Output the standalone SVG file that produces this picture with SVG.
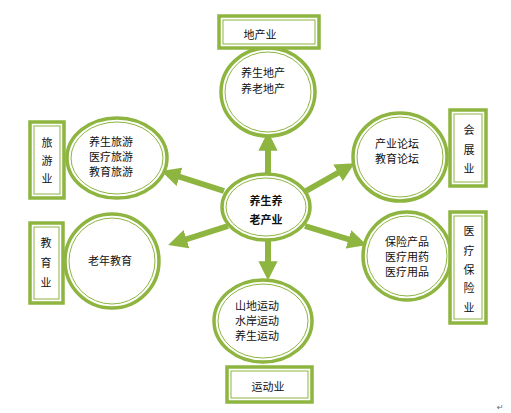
<svg xmlns="http://www.w3.org/2000/svg" width="511" height="413" viewBox="0 0 511 413">
<defs>
<style>
.o{fill:#fff;stroke:#8DB540;stroke-width:3.5}
.i{fill:none;stroke:#8DB540;stroke-width:1}
.t{font-family:"Noto Sans CJK SC","Noto Sans CJK JP",sans-serif;font-size:11px;fill:#111;text-anchor:middle;dominant-baseline:central}
.b{font-weight:bold}
.c{stroke:#8DB540;stroke-width:6;fill:none}
</style>
<marker id="ah" viewBox="0 0 10 10" refX="3" refY="5" markerWidth="3.2" markerHeight="3.2" markerUnits="strokeWidth" orient="auto">
<path d="M0,0 L10,5 L0,10 Z" fill="#8DB540"/>
</marker>
</defs>
<rect width="511" height="413" fill="#fff"/>
<g id="connectors">
<line class="c" x1="268" y1="175" x2="268" y2="145" marker-end="url(#ah)"/>
<line class="c" x1="224" y1="191" x2="174" y2="175" marker-end="url(#ah)"/>
<line class="c" x1="306" y1="191" x2="343" y2="170" marker-end="url(#ah)"/>
<line class="c" x1="228" y1="226" x2="181" y2="241" marker-end="url(#ah)"/>
<line class="c" x1="305" y1="226" x2="354" y2="241" marker-end="url(#ah)"/>
<line class="c" x1="268" y1="238" x2="268" y2="267" marker-end="url(#ah)"/>
</g>
<g id="center">
<ellipse class="o" cx="266" cy="207" rx="44" ry="33"/>
<ellipse class="i" cx="266" cy="207" rx="40" ry="29"/>
<text class="t b" x="266" y="200">养生养</text>
<text class="t b" x="266" y="219">老产业</text>
</g>
<g id="top-ellipse">
<ellipse class="o" cx="268" cy="92" rx="47" ry="44"/>
<ellipse class="i" cx="268" cy="92" rx="43" ry="40"/>
<text class="t" x="263" y="72">养生地产</text>
<text class="t" x="263" y="88">养老地产</text>
</g>
<g id="top-box">
<rect class="o" x="219" y="16" width="100" height="32"/>
<rect class="i" x="223" y="20" width="92" height="24"/>
<text class="t" x="260" y="34">地产业</text>
</g>
<g id="tourism-ellipse">
<ellipse class="o" cx="117" cy="158" rx="50" ry="40"/>
<ellipse class="i" cx="117" cy="158" rx="46" ry="36"/>
<text class="t" x="111" y="141">养生旅游</text>
<text class="t" x="111" y="156">医疗旅游</text>
<text class="t" x="111" y="171">教育旅游</text>
</g>
<g id="tourism-box">
<rect class="o" x="30" y="122" width="34" height="76"/>
<rect class="i" x="34" y="126" width="26" height="68"/>
<text class="t" x="47" y="142">旅</text>
<text class="t" x="47" y="160">游</text>
<text class="t" x="47" y="178">业</text>
</g>
<g id="expo-ellipse">
<ellipse class="o" cx="400" cy="157" rx="47" ry="44"/>
<ellipse class="i" cx="400" cy="157" rx="43" ry="40"/>
<text class="t" x="397" y="143">产业论坛</text>
<text class="t" x="397" y="158">教育论坛</text>
</g>
<g id="expo-box">
<rect class="o" x="450" y="110" width="36" height="76"/>
<rect class="i" x="454" y="114" width="28" height="68"/>
<text class="t" x="469" y="129">会</text>
<text class="t" x="469" y="149">展</text>
<text class="t" x="469" y="168">业</text>
</g>
<g id="edu-ellipse">
<ellipse class="o" cx="112" cy="261" rx="47" ry="47"/>
<ellipse class="i" cx="112" cy="261" rx="43" ry="43"/>
<text class="t" x="110" y="260">老年教育</text>
</g>
<g id="edu-box">
<rect class="o" x="30" y="223" width="33" height="80"/>
<rect class="i" x="34" y="227" width="25" height="72"/>
<text class="t" x="46" y="242">教</text>
<text class="t" x="46" y="262">育</text>
<text class="t" x="46" y="282">业</text>
</g>
<g id="med-ellipse">
<ellipse class="o" cx="407" cy="256" rx="44" ry="44"/>
<ellipse class="i" cx="407" cy="256" rx="40" ry="40"/>
<text class="t" x="407" y="241">保险产品</text>
<text class="t" x="407" y="256">医疗用药</text>
<text class="t" x="407" y="271">医疗用品</text>
</g>
<g id="med-box">
<rect class="o" x="450" y="212" width="36" height="111"/>
<rect class="i" x="454" y="216" width="28" height="103"/>
<text class="t" x="469" y="230">医</text>
<text class="t" x="469" y="250">疗</text>
<text class="t" x="469" y="269">保</text>
<text class="t" x="469" y="287">险</text>
<text class="t" x="469" y="307">业</text>
</g>
<g id="sport-ellipse">
<ellipse class="o" cx="263" cy="321" rx="49" ry="41"/>
<ellipse class="i" cx="263" cy="321" rx="45" ry="37"/>
<text class="t" x="257" y="305">山地运动</text>
<text class="t" x="257" y="320">水岸运动</text>
<text class="t" x="257" y="335">养生运动</text>
</g>
<g id="sport-box">
<rect class="o" x="227" y="367" width="85" height="35"/>
<rect class="i" x="231" y="371" width="77" height="27"/>
<text class="t" x="268" y="386">运动业</text>
</g>
<text x="497" y="410" style="font-family:'DejaVu Sans',sans-serif;font-size:8px;fill:#666">↵</text>
</svg>
